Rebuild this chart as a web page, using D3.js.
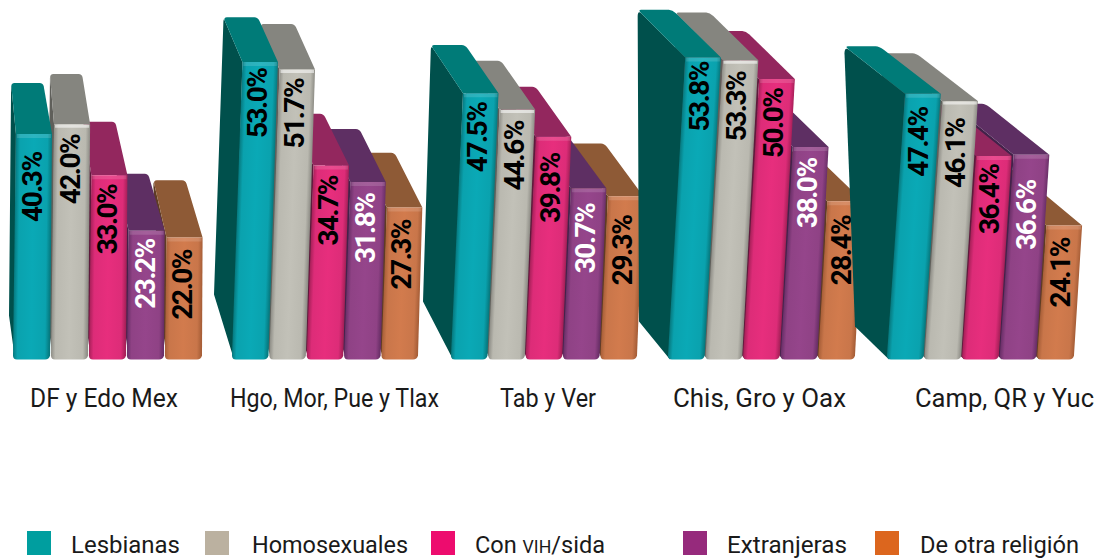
<!DOCTYPE html>
<html><head><meta charset="utf-8">
<style>html,body{margin:0;padding:0;background:#fff}svg{display:block}</style>
<script src="https://cdn.jsdelivr.net/npm/d3@7"></script></head>
<body><svg id="c" width="1098" height="560"></svg>
<script>
// ---- data ----
const regions = ["DF y Edo Mex","Hgo, Mor, Pue y Tlax","Tab y Ver","Chis, Gro y Oax","Camp, QR y Yuc"];
const series = ["Lesbianas","Homosexuales","Con VIH/sida","Extranjeras","De otra religión"];
const lesbianas    = [40.3,53.0,47.5,53.8,47.4];
const homosexuales = [42.0,51.7,44.6,53.3,46.1];
const conVih       = [33.0,34.7,39.8,50.0,36.4];
const extranjeras  = [23.2,31.8,30.7,38.0,36.6];
const otraReligion = [22.0,27.3,29.3,28.4,24.1];
const values = [lesbianas,homosexuales,conVih,extranjeras,otraReligion];

// ---- layout and style ----
const spans = [[13,201],[232,417],[451,636],[668,854],[887,1073]];
const lean  = [0.013,0.035,0.045,0.057,0.068];           // shear of the front face
const depthX = [[27,-.45],[36,-.3],[48,-.31],[55,-.12],[72,-.22]]; // top depth = a + b*value
const depthY = [[65,-.35],[65,-.38],[60,-.25],[52,-.08],[64,-.35]];
const footDepth = [[4,44],[18,65],[28,58],[29,38],[32,33]];
const labelGap = [[17,9,8,7,11],[5,8,9,10,11],[8,10,15,14,18],[3,10,8,10,13],[12,16,7,24,11]];
const labelFill = ["#000","#000","#000","#fff","#000"];
const catX = [[30,178],[230,439],[500,596],[673,846],[915,1094]];
const legendSwatchX = [27,205,431,683,875];
const legendTextX = [[71,180],[252,408],[475,605],[727,847],[920,1079]];
const legendColor = ["#009e9f","#bbb1a0","#ed0c6e","#962a7c","#dc661e"];
const frontColor = ["#0aa2ae","#bab9b0","#dd2c78","#8f4285","#c9764a"];
const edgeColor  = ["#067a80","#8f8e87","#a82059","#6a2f68","#a85f38"];
const topColor   = ["#007b78","#85857f","#93275e","#5e2f63","#8e5a36"];
const sideColor  = ["#00504c","#5f5f5a","#5e1a3c","#43224a","#5e3c24"];
const FONT = "Roboto, sans-serif";

const svg = d3.select("#c");
const defs = svg.append("defs");
const y = d3.scaleLinear().domain([0,60]).range([362,22.4]);
const footY = 359.5;
const R = 3.5; // radius of the back corners

regions.forEach((region,g)=>{
  const x = d3.scaleBand().domain(series).range(spans[g]).paddingInner(0.05);
  const w = x.bandwidth();
  const layer = svg.append("g").attr("class","region");
  d3.range(series.length).reverse().forEach(s=>{
    const v = values[s][g], top = y(v), h = footY-top;
    const bl = x(series[s]), br = bl+w, sh = lean[g]*h;
    const tl = bl+sh, tr = br+sh;
    const dx = depthX[g][0]+depthX[g][1]*v, dy = depthY[g][0]+depthY[g][1]*v;
    const narrow = g===0 ? 4 : 1;
    const backL = tl-dx+narrow, backR = tr-dx, backY = top-dy;
    const ux = (tl-backL)/dy, ur = (tr-backR)/dy; // edge run per px of drop
    // side face
    const side = d3.path();
    side.moveTo(tl,top); side.lineTo(backL+ux*R,backY+R);
    side.quadraticCurveTo(backL,backY,backL,backY+R*2);
    side.lineTo(bl-footDepth[g][0],footY-footDepth[g][1]);
    side.lineTo(bl+2,footY); side.closePath();
    layer.append("path").attr("d",side.toString()).attr("fill",sideColor[s]);
    // top face with rounded back corners
    const lid = d3.path();
    lid.moveTo(tl,top); lid.lineTo(backL+ux*R,backY+R);
    lid.quadraticCurveTo(backL,backY,backL+R,backY);
    lid.lineTo(backR-R,backY);
    lid.quadraticCurveTo(backR,backY,backR+ur*R,backY+R);
    lid.lineTo(tr,top); lid.closePath();
    layer.append("path").attr("d",lid.toString()).attr("fill",topColor[s]);
    // front face: gradient runs across the sheared bar
    const len = Math.hypot(h,sh), nx = h/len, ny = sh/len, id = `f${g}-${s}`;
    const grad = defs.append("linearGradient").attr("id",id).attr("gradientUnits","userSpaceOnUse")
      .attr("x1",bl).attr("y1",footY).attr("x2",bl+nx*w).attr("y2",footY+ny*w);
    [[0,edgeColor[s]],[.12,frontColor[s]],[.5,d3.color(frontColor[s]).brighter(.12)],[.88,frontColor[s]],[1,edgeColor[s]]]
      .forEach(([o,c])=>grad.append("stop").attr("offset",o).attr("stop-color",c));
    const front = d3.path();
    front.moveTo(tl,top); front.lineTo(tr,top); front.lineTo(br+1,footY-4);
    front.quadraticCurveTo(br,footY,br-4,footY); front.lineTo(bl+4,footY);
    front.quadraticCurveTo(bl,footY,bl,footY-4); front.closePath();
    layer.append("path").attr("d",front.toString()).attr("fill",`url(#${id})`);
    // highlight along the upper rim
    layer.append("path").attr("d",d3.line()([[tl+1,top+2],[tr-1,top+2]]))
      .attr("stroke","#fff").attr("stroke-opacity",s===1?.55:.14).attr("stroke-width",s===1?3:4).attr("fill","none");
    // value label
    const labelTop = top+labelGap[g][s], labelLen = 71;
    const midH = footY-(labelTop+labelLen/2);
    const cx = bl+w/2+lean[g]*midH-2;
    layer.append("text").attr("transform",`translate(${cx+10.5},${labelTop+labelLen}) rotate(-90)`)
      .attr("font-family",FONT).attr("font-weight",700).attr("font-size",28)
      .attr("textLength",labelLen).attr("lengthAdjust","spacing")
      .attr("fill",labelFill[s]).text(v.toFixed(1)+"%");
  });
  svg.append("text").attr("x",catX[g][0]).attr("y",407).attr("font-family",FONT).attr("font-size",25.5)
    .attr("textLength",catX[g][1]-catX[g][0]).attr("lengthAdjust","spacingAndGlyphs")
    .attr("fill","#1a1a1a").text(region);
});

// legend
series.forEach((name,i)=>{
  svg.append("rect").attr("x",legendSwatchX[i]).attr("y",531).attr("width",24).attr("height",24).attr("fill",legendColor[i]);
  const t = svg.append("text").attr("x",legendTextX[i][0]).attr("y",553).attr("font-family",FONT).attr("font-size",24)
    .attr("textLength",legendTextX[i][1]-legendTextX[i][0]).attr("lengthAdjust","spacingAndGlyphs").attr("fill","#1a1a1a");
  const m = name.match(/^(.*)(VIH)(.*)$/);
  if(m){ t.append("tspan").text(m[1]); t.append("tspan").attr("font-size",18).text(m[2]); t.append("tspan").text(m[3]); }
  else t.text(name);
});
</script></body></html>
